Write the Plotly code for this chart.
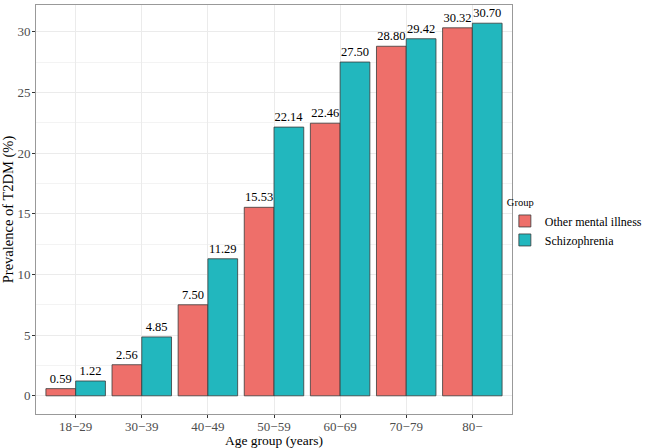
import plotly.graph_objects as go

categories = ["18\u221229", "30\u221239", "40\u221249", "50\u221259", "60\u221269", "70\u221279", "80\u2212"]
other_mental = [0.59, 2.56, 7.50, 15.53, 22.46, 28.80, 30.32]
schizophrenia = [1.22, 4.85, 11.29, 22.14, 27.50, 29.42, 30.70]
y_ticks = [0, 5, 10, 15, 20, 25, 30]

font_family = "Liberation Serif, Times New Roman, serif"

fig = go.Figure()
for name, vals, color in [("Other mental illness", other_mental, "#EE6F6A"),
                          ("Schizophrenia", schizophrenia, "#22B7BE")]:
    fig.add_trace(go.Bar(
        x=categories, y=vals, name=name,
        marker=dict(color=color, line=dict(color="#3a3a3a", width=0.8)),
        text=[f"{v:.2f}" for v in vals], textposition="outside",
        textfont=dict(family=font_family, size=12.5, color="black"),
        cliponaxis=False,
    ))

fig.update_layout(
    width=645, height=448,
    margin=dict(l=36, r=133, t=5, b=34, autoexpand=False),
    barmode="group", bargap=0.1, bargroupgap=0,
    plot_bgcolor="white", paper_bgcolor="white",
    font=dict(family=font_family, size=13, color="#4d4d4d"),
    legend=dict(title=dict(text="Group", font=dict(size=10.5, color="black")),
                font=dict(size=12, color="black"),
                bgcolor="rgba(0,0,0,0)",
                x=0.985, xanchor="left", y=0.465, yanchor="middle",
                tracegroupgap=0, itemwidth=30),
    uniformtext=dict(mode=False),
)
fig.update_xaxes(
    range=[-0.6, 6.6], showgrid=True, gridcolor="#ebebeb", gridwidth=1,
    ticks="outside", ticklen=3, tickcolor="#333333",
    tickfont=dict(size=13, color="#4d4d4d"), ticklabelstandoff=-3,
    showline=True, linecolor="#999999", linewidth=1, mirror=True,
    title=dict(text="Age group (years)", font=dict(size=13.5, color="black"), standoff=0),
)
fig.update_yaxes(
    range=[-1.5, 32.2], tickvals=y_ticks, showgrid=True, gridcolor="#ebebeb", gridwidth=1,
    minor=dict(tickvals=[2.5, 7.5, 12.5, 17.5, 22.5, 27.5], showgrid=True, gridcolor="#f3f3f3", gridwidth=0.6),
    zeroline=False,
    ticks="outside", ticklen=3, tickcolor="#333333",
    tickfont=dict(size=13, color="#4d4d4d"), ticklabelstandoff=-1,
    showline=True, linecolor="#999999", linewidth=1, mirror=True,
    title=dict(text="Prevalence of T2DM (%)", font=dict(size=14.5, color="black"), standoff=3),
)

fig.write_html("out.html", config={"displayModeBar": False},
               post_script="document.body.style.margin='0';document.body.style.overflow='hidden';")
